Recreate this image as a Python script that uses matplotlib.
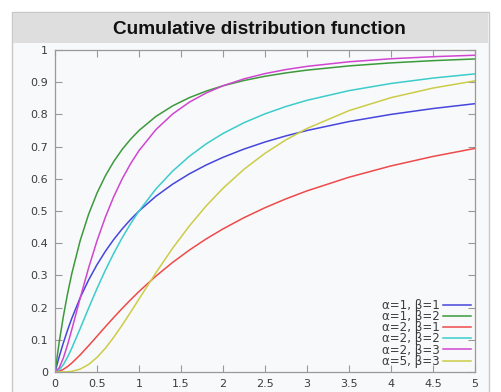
import matplotlib
matplotlib.use("Agg")
import matplotlib.pyplot as plt
from matplotlib.patches import Rectangle

# --- DATA ---
x_vals = [0, 0.05, 0.1, 0.15, 0.2, 0.3, 0.4, 0.5, 0.6, 0.7, 0.8, 0.9, 1.0,
          1.2, 1.4, 1.6, 1.8, 2.0, 2.25, 2.5, 2.75, 3.0, 3.5, 4.0, 4.5, 5.0]

a1b1 = [0, 0.0476, 0.0909, 0.1304, 0.1667, 0.2308, 0.2857, 0.3333, 0.375, 0.4118,
        0.4444, 0.4737, 0.5, 0.5455, 0.5833, 0.6154, 0.6429, 0.6667, 0.6923, 0.7143,
        0.7333, 0.75, 0.7778, 0.8, 0.8182, 0.8333]
a1b2 = [0, 0.0930, 0.1736, 0.2439, 0.3056, 0.4083, 0.4898, 0.5556, 0.6094, 0.6540,
        0.6914, 0.7230, 0.75, 0.7934, 0.8264, 0.8521, 0.8724, 0.8889, 0.9053, 0.9184,
        0.9289, 0.9375, 0.9506, 0.96, 0.9669, 0.9722]
a2b1 = [0, 0.0023, 0.0083, 0.0170, 0.0278, 0.0533, 0.0816, 0.1111, 0.1406, 0.1696,
        0.1975, 0.2244, 0.25, 0.2975, 0.3403, 0.3787, 0.4133, 0.4444, 0.4793, 0.5102,
        0.5378, 0.5625, 0.6049, 0.64, 0.6694, 0.6944]
a2b2 = [0, 0.0066, 0.0233, 0.0466, 0.0741, 0.1352, 0.1983, 0.2593, 0.3164, 0.3690,
        0.4170, 0.4606, 0.5, 0.5680, 0.6238, 0.6700, 0.7085, 0.7407, 0.7742, 0.8017,
        0.8246, 0.8438, 0.8738, 0.896, 0.9128, 0.9259]
a2b3 = [0, 0.0128, 0.0438, 0.0852, 0.1319, 0.2297, 0.3232, 0.4074, 0.4812, 0.5450,
        0.5999, 0.6470, 0.6875, 0.7524, 0.8011, 0.8381, 0.8666, 0.8889, 0.9104, 0.9267,
        0.9393, 0.9492, 0.9634, 0.9728, 0.9792, 0.9838]
a5b3 = [0, 0.0000, 0.0001, 0.0006, 0.0020, 0.0090, 0.0233, 0.0453, 0.0740, 0.1081,
        0.1458, 0.1857, 0.2266, 0.3077, 0.3842, 0.4538, 0.5159, 0.5706, 0.6296, 0.6792,
        0.7211, 0.7564, 0.8117, 0.8520, 0.8818, 0.9042]

series = [a1b1, a1b2, a2b1, a2b2, a2b3, a5b3]
labels = ['α=1, β=1', 'α=1, β=2', 'α=2, β=1', 'α=2, β=2', 'α=2, β=3', 'α=5, β=3']
colors = ['#4646dc', '#3c9a3c', '#ee4a4a', '#3ccccc', '#d046d0', '#cccc48']

x_ticks = [0, 0.5, 1, 1.5, 2, 2.5, 3, 3.5, 4, 4.5, 5]
x_tick_labels = ['0', '0.5', '1', '1.5', '2', '2.5', '3', '3.5', '4', '4.5', '5']
y_ticks = [0, 0.1, 0.2, 0.3, 0.4, 0.5, 0.6, 0.7, 0.8, 0.9, 1]
y_tick_labels = ['0', '0.1', '0.2', '0.3', '0.4', '0.5', '0.6', '0.7', '0.8', '0.9', '1']

W, H = 501, 392
fig = plt.figure(figsize=(W / 100, H / 100), dpi=100)
fig.patch.set_facecolor('white')

# outer panel + title band (behind the axes)
fig.patches.append(Rectangle((12 / W, -0.01), (489 - 12) / W, (H - 12) / H + 0.01,
                             transform=fig.transFigure, facecolor='#f8f9fa',
                             edgecolor='#c8c8c8', lw=1, zorder=-5))
fig.patches.append(Rectangle((13 / W, (H - 43) / H), (488 - 13) / W, 30 / H,
                             transform=fig.transFigure, facecolor='#dedede',
                             edgecolor='none', zorder=-4))
fig.text(259.5 / W, (H - 29) / H, 'Cumulative distribution function',
         ha='center', va='center', fontsize=13.7, fontweight='bold',
         family='Liberation Sans', color='#111111')

ax = fig.add_axes([55 / W, (H - 372) / H, 420 / W, 322 / H])
ax.set_zorder(2)
ax.set_facecolor('none')

for y, lab, c in zip(series, labels, colors):
    ax.plot(x_vals, y, color=c, lw=1.1, label=lab)

ax.set_xlim(0, 5)
ax.set_ylim(0, 1)
ax.set_xticks(x_ticks)
ax.set_xticklabels(x_tick_labels)
ax.set_yticks(y_ticks)
ax.set_yticklabels(y_tick_labels)
ax.tick_params(direction='in', length=5, width=0.8, color='#999999',
               labelsize=8, labelcolor='#3c3c3c', top=True, right=True, pad=5)
for s in ax.spines.values():
    s.set_color('#999999')
    s.set_linewidth(0.9)

leg = ax.legend(loc='lower right', bbox_to_anchor=(1.0, 0.0), frameon=False,
                markerfirst=False, fontsize=8.6, handlelength=2.3, handletextpad=0.3,
                labelspacing=-0.15, borderaxespad=0.15, borderpad=0.2)
for t in leg.get_texts():
    t.set_color('#3c3c3c')

fig.savefig('out.png', dpi=100, facecolor='white')
